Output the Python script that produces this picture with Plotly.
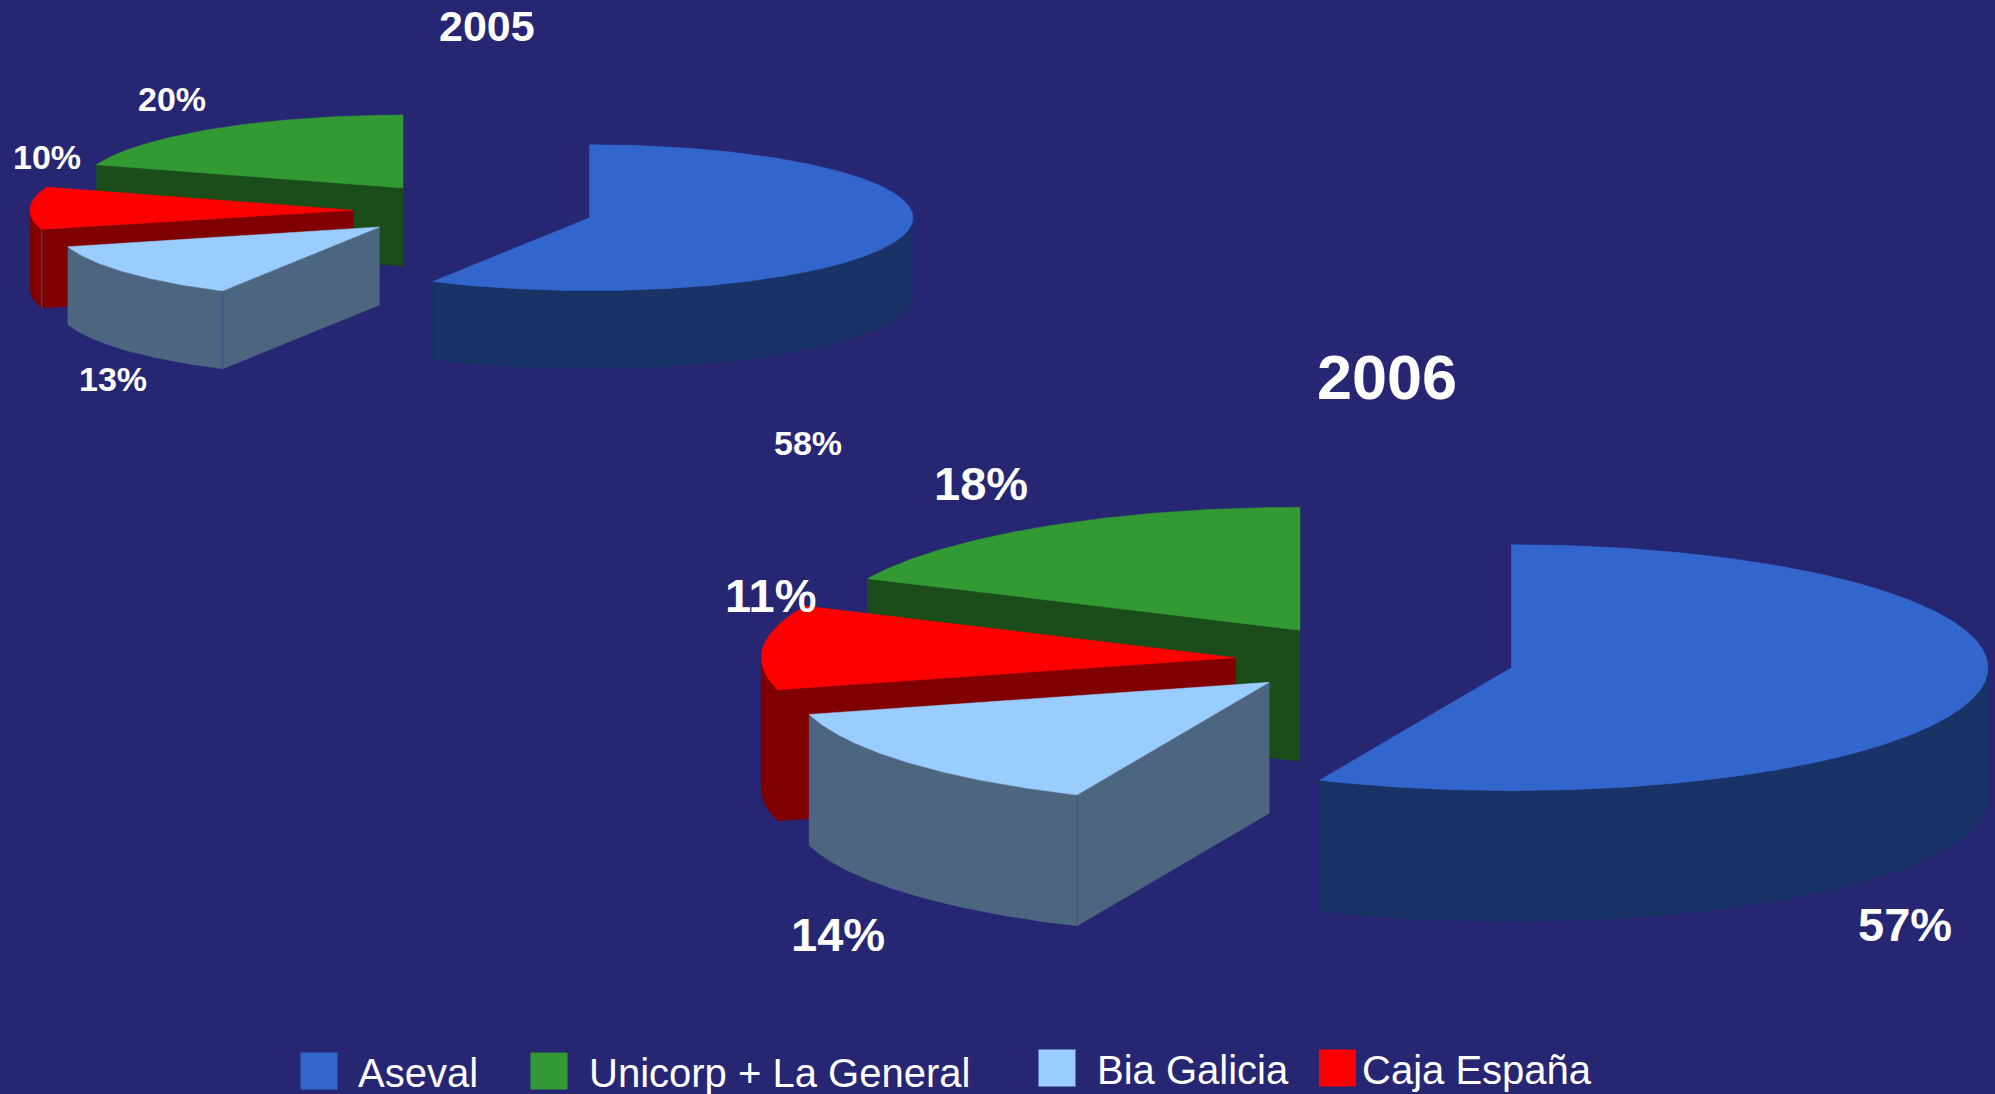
import numpy as np
import plotly.graph_objects as go

# ---- data ----
categories = ["Aseval", "Bia Galicia", "Caja España", "Unicorp + La General"]
values_2005 = [58.05, 12.6, 9.5, 19.85]
values_2006 = [56.6, 14.2, 11.1, 18.1]
titles = ["2005", "2006"]

# ---- styles ----
BG = "#262673"
FONT = "Liberation Sans"
top_colors = ["#3366CC", "#99CCFF", "#FF0000", "#339933"]
wall_colors = ["#1A3366", "#4D6680", "#800000", "#1A4D1A"]
SEAM = "#3F4F85"

# ---- layout: pie geometry in page pixels ----
pie_2005 = dict(rx=323.5, ry=73, depth=78, rx_scale=[1, 1, 1, 1],
                apex=[(589.5, 217.7), (379.4, 227), (353.3, 210.3), (403, 188)],
                seams=[1, 2])
pie_2006 = dict(rx=476.6, ry=123, depth=131, rx_scale=[1, 1, 0.995, 1],
                apex=[(1511.4, 667.7), (1269.2, 682.3), (1235.5, 657.7), (1300, 630.3)],
                seams=[1])
label_pos_2005 = [(808, 443), (113, 379), (47, 157), (172, 99)]
label_pos_2006 = [(1905, 924), (838, 934), (770, 595), (981, 483)]
title_pos = [(487, 26), (1387, 377)]
legend_order = [0, 3, 1, 2]
legend_sq = [(319, 1071), (549, 1071), (1057, 1068), (1337.5, 1068)]
legend_txt = [(356, 1073), (586.5, 1073), (1094.5, 1070), (1359.5, 1070)]


def arc(ax, ay, rx, ry, a0, a1, dy=0.0):
    t = np.radians(np.linspace(a0, a1, max(2, int(abs(a1 - a0) * 2) + 1)))
    return ax + rx * np.sin(t), ay - ry * np.cos(t) + dy


def poly(fig, x, y, color, name):
    fig.add_trace(go.Scatter(x=list(x), y=list(y), mode="lines", fill="toself",
                             fillcolor=color, line=dict(color=color, width=0.5),
                             showlegend=False, name=name, hoverinfo="name"))


def draw_pie(fig, values, geo):
    ry, d = geo["ry"], geo["depth"]
    total = sum(values)
    edges = np.concatenate([[0], np.cumsum(values)]) / total * 360
    # painter's order: back slices first, the large slice last
    for i in [3, 2, 1, 0]:
        rx = geo["rx"] * geo["rx_scale"][i]
        a0, a1 = edges[i], edges[i + 1]
        ax, ay = geo["apex"][i]
        name = categories[i]
        # cut faces that look towards the viewer
        for a, visible in ((a0, 180 < a0 < 360), (a1, 0 < a1 < 180)):
            if visible:
                ex, ey = arc(ax, ay, rx, ry, a, a)
                ex, ey = ex[0], ey[0]
                poly(fig, [ax, ex, ex, ax, ax], [ay, ey, ey + d, ay + d, ay],
                     wall_colors[i], name)
        # outer wall, front half only
        w0, w1 = max(a0, 90), min(a1, 270)
        if w1 > w0:
            xt, yt = arc(ax, ay, rx, ry, w0, w1)
            xb, yb = arc(ax, ay, rx, ry, w0, w1, d)
            poly(fig, np.r_[xt, xb[::-1], xt[0]], np.r_[yt, yb[::-1], yt[0]],
                 wall_colors[i], name)
        if i in geo["seams"]:
            sx, sy = arc(ax, ay, rx, ry, a0, a0)
            fig.add_trace(go.Scatter(x=[sx[0], sx[0]], y=[sy[0], sy[0] + d], mode="lines",
                                     line=dict(color=SEAM, width=1),
                                     showlegend=False, hoverinfo="skip"))
        # top
        xt, yt = arc(ax, ay, rx, ry, a0, a1)
        poly(fig, np.r_[ax, xt, ax], np.r_[ay, yt, ay], top_colors[i], name)


fig = go.Figure()
draw_pie(fig, values_2005, pie_2005)
draw_pie(fig, values_2006, pie_2006)

# legend swatches
fig.add_trace(go.Scatter(
    x=[p[0] for p in legend_sq], y=[p[1] for p in legend_sq], mode="markers",
    marker=dict(symbol="square", size=37, color=[top_colors[i] for i in legend_order],
                line=dict(width=0)),
    showlegend=False, hoverinfo="skip"))

ann = []
def text(x, y, s, size, bold=True, anchor="center"):
    t = f"<b>{s}</b>" if bold else s
    ann.append(dict(x=x, y=y, text=t, showarrow=False, xanchor=anchor, yanchor="middle",
                    xref="x", yref="y", font=dict(family=FONT, size=size, color="white")))

for vals, pos, size in ((values_2005, label_pos_2005, 34), (values_2006, label_pos_2006, 47)):
    for v, (x, y) in zip(vals, pos):
        text(x, y, f"{round(v)}%", size)
text(*title_pos[0], titles[0], 43)
text(*title_pos[1], titles[1], 63)
for i, (x, y) in zip(legend_order, legend_txt):
    text(x, y, categories[i], 40, bold=False, anchor="left")

fig.update_layout(
    width=1995, height=1094, autosize=False,
    margin=dict(l=0, r=0, t=0, b=0, pad=0),
    paper_bgcolor=BG, plot_bgcolor=BG, showlegend=False, annotations=ann,
    xaxis=dict(range=[0, 1995], visible=False, fixedrange=True),
    yaxis=dict(range=[1094, 0], visible=False, fixedrange=True),
)
fig.write_html("out.html", config={"displayModeBar": False},
               post_script="document.body.style.margin='0';document.body.style.background='%s';document.documentElement.style.overflow='hidden';" % BG)
